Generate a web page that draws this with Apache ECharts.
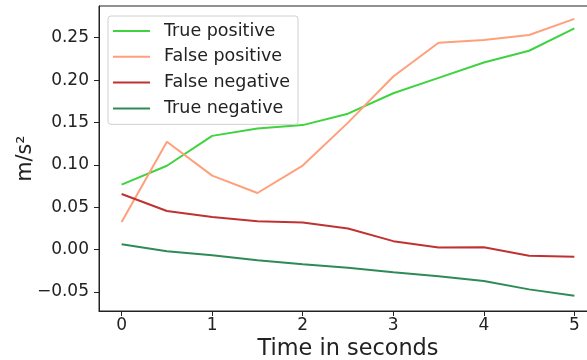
<!DOCTYPE html>
<html>
<head>
<meta charset="utf-8">
<script src="https://cdn.jsdelivr.net/npm/echarts@6/dist/echarts.min.js"></script>
<style>
  html, body { margin: 0; padding: 0; background: #fff; }
  #chart { width: 587px; height: 360px; }
</style>
</head>
<body>
<div id="chart"></div>
<script>
// Sample times (seconds)
const times = [0, 0.5, 1, 1.5, 2, 2.5, 3, 3.5, 4, 4.5, 5];

// Mean acceleration per outcome class (m/s²)
const truePositive  = [0.0767, 0.0989, 0.1342, 0.1430, 0.1469, 0.1604, 0.1845, 0.2026, 0.2208, 0.2346, 0.2611];
const falsePositive = [0.0325, 0.1273, 0.0873, 0.0668, 0.0992, 0.1498, 0.2043, 0.2441, 0.2473, 0.2532, 0.2722];
const falseNegative = [0.0656, 0.0455, 0.0384, 0.0336, 0.0320, 0.0249, 0.0100, 0.0024, 0.0028, -0.0071, -0.0083];
const trueNegative  = [0.0064, -0.0019, -0.0066, -0.0126, -0.0173, -0.0213, -0.0268, -0.0315, -0.0371, -0.0469, -0.0545];

const seriesNames = ['True positive', 'False positive', 'False negative', 'True negative'];
const seriesColors = ['#3fd33f', '#ffa07a', '#c03232', '#2e8b57'];

// Tick positions
const xTicks = [0, 1, 2, 3, 4, 5];
const yTicks = [-0.05, 0, 0.05, 0.10, 0.15, 0.20, 0.25];

const FONT = 'DejaVu Sans';
const pairs = v => times.map((t, i) => [t, v[i]]);
const allValues = [truePositive, falsePositive, falseNegative, trueNegative];

const chart = echarts.init(document.getElementById('chart'), null, { renderer: 'canvas' });

chart.setOption({
  animation: false,
  backgroundColor: '#fff',
  grid: {
    left: 99, top: 6, width: 498, height: 305,
    outerBoundsMode: 'none',
    containLabel: false,
    show: true, borderColor: '#222', borderWidth: 1, backgroundColor: 'transparent'
  },
  legend: {
    orient: 'vertical',
    left: 108, top: 16,
    data: seriesNames,
    icon: 'rect',
    backgroundColor: '#fff',
    borderColor: '#d0d0d0',
    borderWidth: 1,
    borderRadius: 3,
    padding: [6, 8, 7, 5],
    itemWidth: 37,
    itemHeight: 2,
    itemGap: 7.8,
    textStyle: { fontFamily: FONT, fontSize: 17.5, color: '#222', padding: [0, 0, 0, 9] }
  },
  xAxis: {
    type: 'value',
    min: -0.25, max: 5.25,
    name: 'Time in seconds',
    nameLocation: 'middle',
    nameGap: 27,
    nameMoveOverlap: false,
    nameTextStyle: { fontFamily: FONT, fontSize: 22.4, color: '#222' },
    splitLine: { show: false },
    axisLine: { show: true, onZero: false, lineStyle: { color: '#222', width: 1 } },
    axisTick: { show: true, length: 5, customValues: xTicks, lineStyle: { color: '#222' } },
    axisLabel: {
      customValues: xTicks,
      fontFamily: FONT, fontSize: 17, color: '#222', margin: 6,
      formatter: v => String(v)
    }
  },
  yAxis: {
    type: 'value',
    min: -0.0724, max: 0.2874,
    name: 'm/s²',
    nameLocation: 'middle',
    nameGap: 63,
    nameRotate: 90,
    nameMoveOverlap: false,
    nameTextStyle: { fontFamily: FONT, fontSize: 20.5, color: '#222' },
    splitLine: { show: false },
    axisLine: { show: true, onZero: false, lineStyle: { color: '#222', width: 1 } },
    axisTick: { show: true, length: 5, customValues: yTicks, lineStyle: { color: '#222' } },
    axisLabel: {
      customValues: yTicks,
      fontFamily: FONT, fontSize: 17, color: '#222', margin: 10,
      formatter: v => (v < 0 ? '\u2212' : '') + Math.abs(v).toFixed(2)
    }
  },
  series: seriesNames.map((name, i) => ({
    name,
    type: 'line',
    data: pairs(allValues[i]),
    symbol: 'none',
    color: seriesColors[i],
    lineStyle: { color: seriesColors[i], width: 2 }
  }))
});
</script>
</body>
</html>
